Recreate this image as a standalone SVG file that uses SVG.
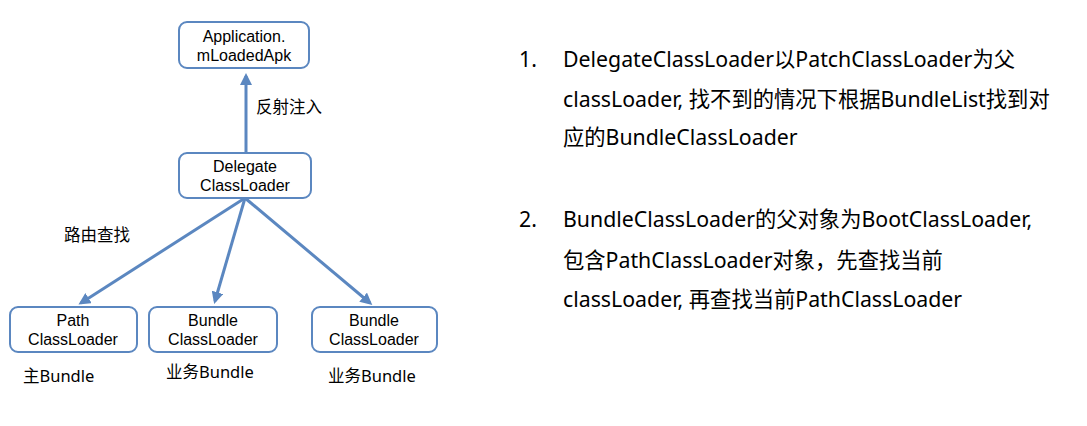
<svg xmlns="http://www.w3.org/2000/svg" width="1087" height="426" viewBox="0 0 1087 426">
<style>
.box{fill:#fff;stroke:#5b87c0;stroke-width:2}
.t{font-family:"Liberation Sans","Noto Sans CJK SC",sans-serif;font-size:16px;fill:#000;text-anchor:middle}
.l{font-family:"Noto Sans","Noto Sans CJK SC",sans-serif;font-size:16.5px;fill:#000}
.r{font-family:"Noto Sans","Noto Sans CJK SC",sans-serif;font-size:21.3px;fill:#000}
.c{stroke:#5b87c0;stroke-width:3;fill:none;marker-end:url(#ah)}
</style>
<defs>
<marker id="ah" markerWidth="4" markerHeight="4" refX="3" refY="2" orient="auto" markerUnits="strokeWidth">
<path d="M0,0 L4,2 L0,4 z" fill="#5b87c0"/>
</marker>
</defs>
<rect width="1087" height="426" fill="#fff"/>
<g id="connectors">
<line class="c" x1="246" y1="153" x2="246" y2="76"/>
<line class="c" x1="245" y1="198" x2="81" y2="303"/>
<line class="c" x1="245" y1="198" x2="215" y2="301"/>
<line class="c" x1="245" y1="198" x2="370" y2="303"/>
</g>
<g id="app">
<rect class="box" x="179" y="22" width="130" height="46" rx="8"/>
<text class="t"><tspan x="244" y="42">Application.</tspan><tspan x="244" y="61">mLoadedApk</tspan></text>
</g>
<g id="delegate">
<rect class="box" x="179" y="153" width="132" height="45" rx="8"/>
<text class="t"><tspan x="245" y="172">Delegate</tspan><tspan x="245" y="191">ClassLoader</tspan></text>
</g>
<g id="path">
<rect class="box" x="10" y="307" width="127" height="45" rx="8"/>
<text class="t"><tspan x="73" y="326">Path</tspan><tspan x="73" y="345">ClassLoader</tspan></text>
</g>
<g id="bundle1">
<rect class="box" x="149" y="307" width="128" height="45" rx="8"/>
<text class="t"><tspan x="213" y="326">Bundle</tspan><tspan x="213" y="345">ClassLoader</tspan></text>
</g>
<g id="bundle2">
<rect class="box" x="312" y="307" width="125" height="45" rx="8"/>
<text class="t"><tspan x="374" y="326">Bundle</tspan><tspan x="374" y="345">ClassLoader</tspan></text>
</g>
<g id="labels">
<text class="l" x="256" y="113">反射注入</text>
<text class="l" x="64" y="241">路由查找</text>
<text class="l" x="23" y="382">主Bundle</text>
<text class="l" x="166" y="378">业务Bundle</text>
<text class="l" x="328" y="382">业务Bundle</text>
</g>
<g id="notes">
<text class="r" x="519" y="67">1.</text>
<text class="r" x="563" y="67">DelegateClassLoader以PatchClassLoader为父</text>
<text class="r" x="563" y="107">classLoader, 找不到的情况下根据BundleList找到对</text>
<text class="r" x="563" y="145">应的BundleClassLoader</text>
<text class="r" x="519" y="227">2.</text>
<text class="r" x="563" y="227">BundleClassLoader的父对象为BootClassLoader,</text>
<text class="r" x="563" y="268">包含PathClassLoader对象，先查找当前</text>
<text class="r" x="563" y="307">classLoader, 再查找当前PathClassLoader</text>
</g>
</svg>
